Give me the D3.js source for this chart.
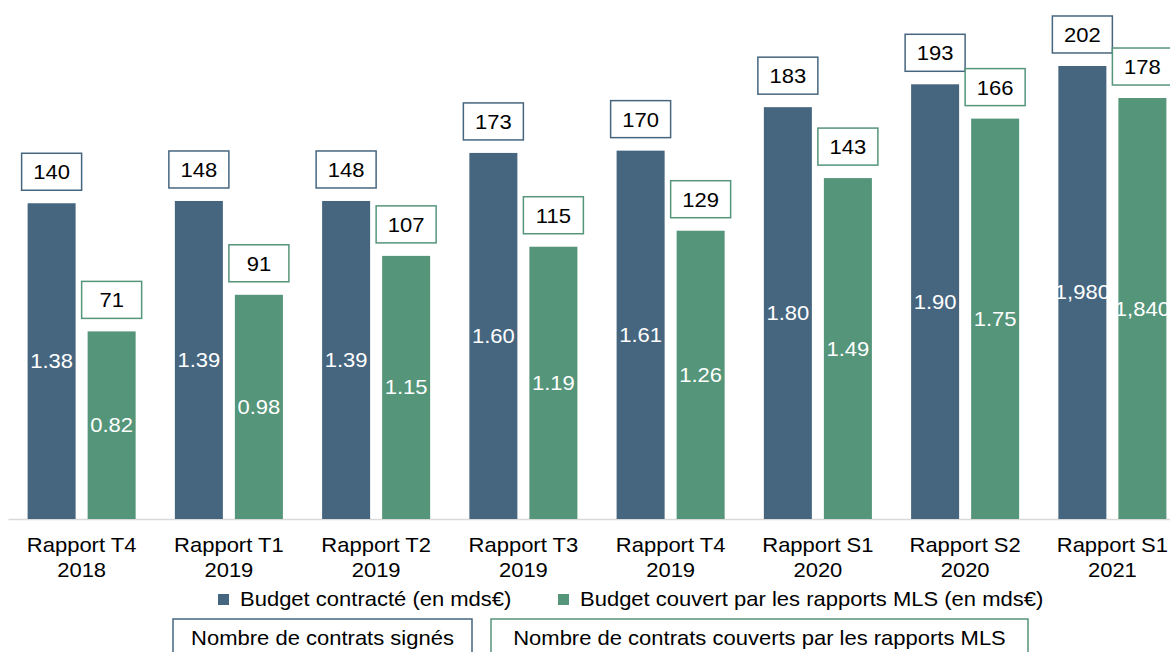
<!DOCTYPE html>
<html>
<head>
<meta charset="utf-8">
<script src="https://cdn.jsdelivr.net/npm/d3@7"></script>
<style>
  body { margin: 0; background: #fff; }
  text { font-family: "Liberation Sans", Arial, sans-serif; }
</style>
</head>
<body>
<div id="chart"></div>
<script>
var categories = [
  ["Rapport T4", "2018"],
  ["Rapport T1", "2019"],
  ["Rapport T2", "2019"],
  ["Rapport T3", "2019"],
  ["Rapport T4", "2019"],
  ["Rapport S1", "2020"],
  ["Rapport S2", "2020"],
  ["Rapport S1", "2021"]
];
var budgetContracte = [1.38, 1.39, 1.39, 1.60, 1.61, 1.80, 1.90, 1.98];
var budgetCouvert = [0.82, 0.98, 1.15, 1.19, 1.26, 1.49, 1.75, 1.84];
var budgetContracteLabels = ["1.38", "1.39", "1.39", "1.60", "1.61", "1.80", "1.90", "1,980"];
var budgetCouvertLabels = ["0.82", "0.98", "1.15", "1.19", "1.26", "1.49", "1.75", "1,840"];
var nbContrats = [140, 148, 148, 173, 170, 183, 193, 202];
var nbCouverts = [71, 91, 107, 115, 129, 143, 166, 178];
var seriesNames = ["Budget contracté (en mds€)", "Budget couvert par les rapports MLS (en mds€)"];
var boxNames = ["Nombre de contrats signés", "Nombre de contrats couverts par les rapports MLS"];

(function chart() {
  var width = 1170;
  var height = 652;
  var colors = ["#46667f", "#55957a"];
  var sx = 1.1; // text in the original is a bit wider than Arial

  var svg = d3.select("#chart")
    .append("svg")
    .attr("width", width)
    .attr("height", height);

  var keys = categories.map(function(d, i) { return i; });

  var x0 = d3.scaleBand()
    .domain(keys)
    .range([8, 1186])
    .paddingInner(0.2663)
    .paddingOuter(0.13315);

  var x1 = d3.scaleBand()
    .domain([0, 1])
    .range([0, x0.bandwidth()])
    .paddingInner(0.2);

  var y = d3.scaleLinear()
    .domain([0, 2.2684])
    .range([519, 0]);

  // axis line + category labels
  var axis = svg.append("g")
    .attr("transform", "translate(0,519)")
    .call(d3.axisBottom(x0).tickSize(0).tickPadding(0).tickFormat(""));

  axis.select(".domain")
    .attr("stroke", "#d9d9d9")
    .attr("stroke-width", 1.5);

  axis.selectAll(".tick text").remove();
  axis.selectAll(".tick").each(function(d) {
    var t = d3.select(this).append("text")
      .attr("transform", "scale(" + sx + ",1)")
      .attr("text-anchor", "middle")
      .attr("fill", "#000")
      .style("font-size", "20px");
    categories[d].forEach(function(line, j) {
      t.append("tspan")
        .attr("x", 0)
        .attr("y", 33 + j * 25)
        .text(line);
    });
  });

  var series = [
    { vals: budgetContracte, labels: budgetContracteLabels, counts: nbContrats },
    { vals: budgetCouvert, labels: budgetCouvertLabels, counts: nbCouverts }
  ];

  series.forEach(function(s, k) {
    var g = svg.append("g");

    g.selectAll("rect.bar")
      .data(s.vals)
      .enter()
      .append("rect")
      .attr("class", "bar")
      .attr("x", function(d, i) { return x0(i) + x1(k); })
      .attr("y", function(d) { return y(d); })
      .attr("width", x1.bandwidth())
      .attr("height", function(d) { return y(0) - y(d); })
      .attr("fill", colors[k]);

    // value labels in the middle of the bars
    g.selectAll("text.val")
      .data(s.vals)
      .enter()
      .append("text")
      .attr("class", "val")
      .attr("transform", function(d, i) {
        var cx = x0(i) + x1(k) + x1.bandwidth() / 2;
        var cy = (y(d) + y(0)) / 2 + 7;
        return "translate(" + cx + "," + cy + ") scale(" + sx + ",1)";
      })
      .attr("text-anchor", "middle")
      .attr("fill", "#fff")
      .style("font-size", "20px")
      .text(function(d, i) { return s.labels[i]; });

    // count boxes above the bars
    var boxes = g.selectAll("g.count")
      .data(s.counts)
      .enter()
      .append("g")
      .attr("class", "count")
      .attr("transform", function(d, i) {
        var cx = x0(i) + x1(k) + x1.bandwidth() / 2;
        var top = y(s.vals[i]) - 13 - 37;
        return "translate(" + cx + "," + top + ")";
      });

    boxes.append("rect")
      .attr("x", -30)
      .attr("y", 0)
      .attr("width", 60)
      .attr("height", 37)
      .attr("fill", "#fff")
      .attr("stroke", colors[k])
      .attr("stroke-width", 1.5);

    boxes.append("text")
      .attr("transform", "translate(0,26) scale(" + sx + ",1)")
      .attr("text-anchor", "middle")
      .attr("fill", "#000")
      .style("font-size", "20px")
      .text(function(d) { return d; });
  });

  // legend
  var legendX = [218, 558];
  var legend = svg.append("g");
  seriesNames.forEach(function(name, k) {
    legend.append("rect")
      .attr("x", legendX[k])
      .attr("y", 594)
      .attr("width", 11)
      .attr("height", 11)
      .attr("fill", colors[k]);
    legend.append("text")
      .attr("transform", "translate(" + (legendX[k] + 22) + ",606) scale(" + sx + ",1)")
      .attr("fill", "#000")
      .style("font-size", "20px")
      .text(name);
  });

  // boxed legend for the count labels
  var boxX = [[173, 472], [491, 1028]];
  boxNames.forEach(function(name, k) {
    legend.append("rect")
      .attr("x", boxX[k][0])
      .attr("y", 619)
      .attr("width", boxX[k][1] - boxX[k][0])
      .attr("height", 50)
      .attr("fill", "#fff")
      .attr("stroke", colors[k])
      .attr("stroke-width", 1.5);
    legend.append("text")
      .attr("transform", "translate(" + ((boxX[k][0] + boxX[k][1]) / 2) + ",645) scale(" + sx + ",1)")
      .attr("text-anchor", "middle")
      .attr("fill", "#000")
      .style("font-size", "20px")
      .text(name);
  });
})();
</script>
</body>
</html>
